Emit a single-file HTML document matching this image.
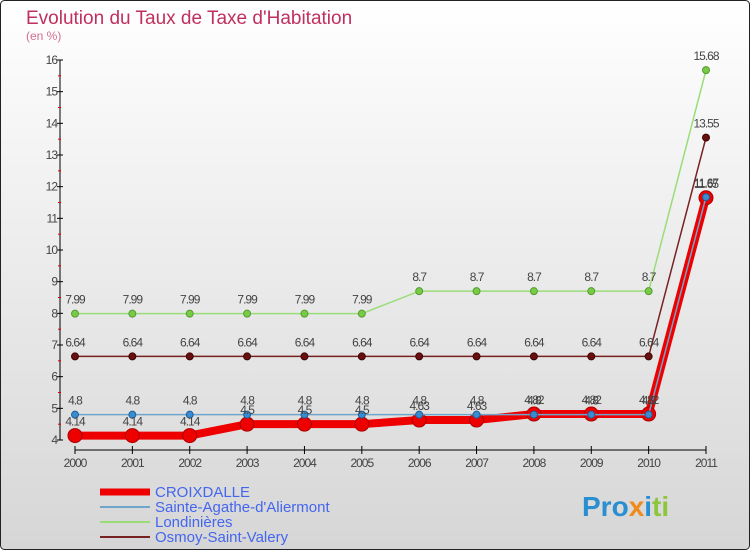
<!DOCTYPE html>
<html><head><meta charset="utf-8"><style>
body{margin:0}
#c{width:750px;height:550px;position:relative;font-family:"Liberation Sans",sans-serif}
</style></head><body>
<div id="c">
<svg id="s" width="750" height="550" xmlns="http://www.w3.org/2000/svg">
<defs><linearGradient id="bg" x1="0" y1="0" x2="0" y2="1"><stop offset="0" stop-color="#ffffff"/><stop offset="1" stop-color="#d6d6d6"/></linearGradient></defs>
<rect x="0.5" y="0.5" width="749" height="549" rx="4" fill="url(#bg)" stroke="#222"/>
<text x="26" y="24" font-size="19" fill="#c0305e">Evolution du Taux de Taxe d'Habitation</text>
<text x="26" y="40" font-size="12" fill="#c0305e" opacity="0.7">(en %)</text>
<g id="axes"></g><g id="series"></g><g id="labels"></g>
<g>
<line x1="100" y1="492" x2="150" y2="492" stroke="#ee0000" stroke-width="7"/>
<text x="155" y="497" font-size="15" fill="#4466ee">CROIXDALLE</text>
<line x1="100" y1="507" x2="150" y2="507" stroke="#6fa4cc" stroke-width="2"/>
<text x="155" y="512" font-size="15" fill="#4466ee">Sainte-Agathe-d'Aliermont</text>
<line x1="100" y1="522" x2="150" y2="522" stroke="#99dd77" stroke-width="2"/>
<text x="155" y="527" font-size="15" fill="#4466ee">Londinières</text>
<line x1="100" y1="537" x2="150" y2="537" stroke="#772222" stroke-width="2"/>
<text x="155" y="542" font-size="15" fill="#4466ee">Osmoy-Saint-Valery</text>
</g>
<text x="582" y="516" font-size="28" font-weight="bold" fill="#2a8fd0">Pro<tspan fill="#f08a1c">x</tspan>i<tspan fill="#8cc63f">ti</tspan></text>
</svg>
</div>
<script>
const years=[2000,2001,2002,2003,2004,2005,2006,2007,2008,2009,2010,2011];
const croix=[4.14,4.14,4.14,4.5,4.5,4.5,4.63,4.63,4.82,4.82,4.82,11.65];
const sainte=[4.8,4.8,4.8,4.8,4.8,4.8,4.8,4.8,4.8,4.8,4.8,11.67];
const londi=[7.99,7.99,7.99,7.99,7.99,7.99,8.7,8.7,8.7,8.7,8.7,15.68];
const osmoy=[6.64,6.64,6.64,6.64,6.64,6.64,6.64,6.64,6.64,6.64,6.64,13.55];
const yTicks=[4,5,6,7,8,9,10,11,12,13,14,15,16];
const NS="http://www.w3.org/2000/svg";
const X=i=>75+i*(706-75)/11, Y=v=>440-(v-4)*(380/12);
function mk(t,a,p){const e=document.createElementNS(NS,t);for(const k in a)e.setAttribute(k,a[k]);p.appendChild(e);return e;}
const ax=document.getElementById('axes'),sg=document.getElementById('series'),lg=document.getElementById('labels');
let e=mk('line',{x1:60,y1:60,x2:60,y2:440,stroke:'#000'},ax);


e=mk('line',{x1:75,y1:450,x2:706,y2:450,stroke:'#000'},ax);


yTicks.forEach(v=>{mk('line',{x1:57,y1:Y(v),x2:63,y2:Y(v),stroke:'#000'},ax);
 if(v<16)mk('line',{x1:58,y1:Y(v+0.5),x2:61,y2:Y(v+0.5),stroke:'#d00'},ax);
 const t=mk('text',{x:57,y:Y(v)+4,'font-size':12,fill:'#444','text-anchor':'end','letter-spacing':'-1'},ax);t.textContent=v;
 
 });
years.forEach((y,i)=>{mk('line',{x1:X(i),y1:446,x2:X(i),y2:454,stroke:'#000'},ax);
 const t=mk('text',{x:X(i),y:467,'font-size':12,fill:'#444','text-anchor':'middle','letter-spacing':'-1'},ax);t.textContent=y;
 
 });
function series(vals,name,col,w,r,fill,stroke){
 const p=mk('polyline',{points:vals.map((v,i)=>X(i)+','+Y(v)).join(' '),fill:'none',stroke:col,'stroke-width':w,'stroke-linejoin':'round'},sg);
 
 
 vals.forEach((v,i)=>{const c=mk('circle',{cx:X(i),cy:Y(v),r:r,fill:fill,stroke:stroke,'stroke-width':1},sg);
  
  
  const t=mk('text',{x:X(i),y:Y(v)-10,'font-size':12,fill:'#444','text-anchor':'middle','letter-spacing':'-1'},lg);t.textContent=v;
  
  });
}
series(londi,'londinieres','#99dd77',1.5,3.5,'#77cc44','#559933');
series(osmoy,'osmoy','#772222',1.5,3.5,'#661111','#440000');
series(croix,'croixdalle','#ee0000',8,7,'#ee0000','#aa0000');
series(sainte,'sainte-agathe','#6fa4cc',1.5,3.5,'#3a8cd0','#1f5f99');
</script>
</body></html>
